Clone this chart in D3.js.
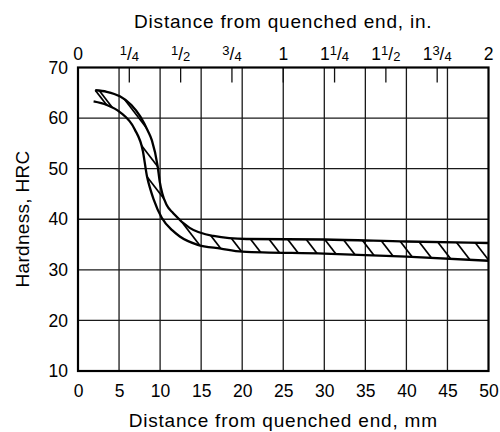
<!DOCTYPE html>
<html><head><meta charset="utf-8">
<script src="https://cdn.jsdelivr.net/npm/d3@7"></script>
<style>
html,body{margin:0;padding:0;background:#fff;}
svg{display:block;font-family:"Liberation Sans",Arial,Helvetica,sans-serif;}
</style></head>
<body><svg id="chart" width="500" height="432"></svg>
<script>
// ---- data ----
const mmTicks = [0,5,10,15,20,25,30,35,40,45,50];
const hrcTicks = [10,20,30,40,50,60,70];
const inchTicks = [0,0.25,0.5,0.75,1,1.25,1.5,1.75,2];
const inchLabels = ["0","1/4","1/2","3/4","1","1 1/4","1 1/2","1 3/4","2"];
// upper (maximum) hardness band boundary: [mm, HRC]
const upperMm  = [2.1,3.5,5.1,6.5,7.6,8.5,9.0,9.7,9.95,10.25,10.8,11.6,13.6,16.5,20.5,30,40,50];
const upperHrc = [65.5,65.2,64.3,62.6,60.3,57.5,55.6,50.5,47.5,45.2,42.8,41.2,38.3,36.7,36.1,36.0,35.6,35.3];
// lower (minimum) hardness band boundary
const lowerMm  = [1.9,3.5,5.1,6.9,7.9,8.4,8.8,9.2,10.2,11.5,12.4,14.5,17.4,20,30,40,50];
const lowerHrc = [63.3,62.6,61.2,57.8,53.5,48.5,46,44,40.3,37.8,36.6,35.0,34.2,33.6,33.2,32.6,31.8];

const titleTop = "Distance from quenched end, in.";
const titleBottom = "Distance from quenched end, mm";
const titleLeft = "Hardness, HRC";

// ---- layout ----
const svg = d3.select("#chart");
const L = 78, R = 488.5, T = 67.5, B = 371;
const x = d3.scaleLinear().domain([0,50]).range([L,R]);
const xIn = d3.scaleLinear().domain([0,2]).range([L,R]);
const y = d3.scaleLinear().domain([10,70]).range([B,T]);

// grid
const g = svg.append("g");
g.append("g").selectAll("line").data(mmTicks.slice(1,-1)).join("line")
  .attr("x1",d=>x(d)).attr("x2",d=>x(d)).attr("y1",T).attr("y2",B)
  .attr("stroke","#1a1a1a").attr("stroke-width",1.3);
g.append("g").selectAll("line").data(hrcTicks.slice(1,-1)).join("line")
  .attr("y1",d=>y(d)).attr("y2",d=>y(d)).attr("x1",L).attr("x2",R)
  .attr("stroke","#1a1a1a").attr("stroke-width",1.3);

// inch ticks (inward from top)
g.append("g").selectAll("line").data(inchTicks.slice(1,-1)).join("line")
  .attr("x1",d=>xIn(d)).attr("x2",d=>xIn(d)).attr("y1",T).attr("y2",T+15)
  .attr("stroke","#111").attr("stroke-width",1.3);

// band
const upper = upperMm.map((m,i)=>[m,upperHrc[i]]);
const lower = lowerMm.map((m,i)=>[m,lowerHrc[i]]);
const line = d3.line().x(d=>x(d[0])).y(d=>y(d[1])).curve(d3.curveMonotoneX);

const tmpPath = document.createElementNS("http://www.w3.org/2000/svg","path");
function sample(pts){
  tmpPath.setAttribute("d", line(pts));
  const len = tmpPath.getTotalLength(); const out=[];
  for(let s=0;s<=len;s+=1){const p=tmpPath.getPointAtLength(s); out.push([p.x,p.y]);}
  const p=tmpPath.getPointAtLength(len); out.push([p.x,p.y]);
  return out;
}
const upS = sample(upper);
const loS = sample(lower.slice(1)).reverse();
const poly = upS.concat(loS);
const defs = svg.append("defs");
defs.append("clipPath").attr("id","band").append("path")
  .attr("d","M"+poly.map(p=>p.join(",")).join("L")+"Z");

// hatch lines
const hatchG = g.append("g").attr("clip-path","url(#band)");
const spacing = 18.5, slope = 10/13;
const offs = d3.range(L-200, R+20, spacing);
hatchG.selectAll("line").data(offs).join("line")
  .attr("x1",d=>d).attr("y1",T).attr("x2",d=>d+(B-T)*slope).attr("y2",B)
  .attr("stroke","#000").attr("stroke-width",1.7);

// curves
g.append("path").attr("d",line(upper)).attr("fill","none").attr("stroke","#000").attr("stroke-width",2.3);
g.append("path").attr("d",line(lower)).attr("fill","none").attr("stroke","#000").attr("stroke-width",2.3);
g.append("line").attr("x1",x(upper[0][0])).attr("y1",y(upper[0][1]))
  .attr("x2",x(lower[1][0])).attr("y2",y(lower[1][1]))
  .attr("stroke","#000").attr("stroke-width",1.8);

// frame
g.append("rect").attr("x",L).attr("y",T).attr("width",R-L).attr("height",B-T)
  .attr("fill","none").attr("stroke","#000").attr("stroke-width",2.2);

// axes
const fs = 17.5;
const bAxis = svg.append("g").attr("transform",`translate(0,${B})`)
  .call(d3.axisBottom(x).tickValues(mmTicks).tickSize(0).tickPadding(14).tickFormat(d3.format("d")));
const lAxis = svg.append("g").attr("transform",`translate(${L},0)`)
  .call(d3.axisLeft(y).tickValues(hrcTicks).tickSize(0).tickPadding(10).tickFormat(d3.format("d")));
[bAxis,lAxis].forEach(a=>{a.select(".domain").remove();
  a.selectAll("text").attr("font-size",fs).attr("fill","#000")
   .attr("font-family","'Liberation Sans',Arial,sans-serif");});

// top inch labels with stacked fractions
const tAxis = svg.append("g");
inchTicks.forEach((v,i)=>{
  const lab = inchLabels[i];
  const t = tAxis.append("text").attr("x",xIn(v)).attr("y",T-7.5)
    .attr("text-anchor","middle").attr("font-size",fs).attr("fill","#000");
  const parts = lab.split(" ");
  let whole="", frac=null;
  if(parts.length===2){whole=parts[0];frac=parts[1];}
  else if(lab.includes("/")) frac=lab; else whole=lab;
  if(whole) t.append("tspan").text(whole);
  if(frac){
    const [n,dd]=frac.split("/");
    t.append("tspan").attr("font-size",13).attr("dy",-5).text(n);
    t.append("tspan").attr("font-size",fs).attr("dy",5).text("/");
    t.append("tspan").attr("font-size",13).attr("dy",1).text(dd);
  }
});

// titles
svg.append("text").attr("x",(L+R)/2).attr("y",28).attr("text-anchor","middle")
  .attr("font-size",19).attr("letter-spacing",0.8).text(titleTop);
svg.append("text").attr("x",(L+R)/2).attr("y",427).attr("text-anchor","middle")
  .attr("font-size",19).attr("letter-spacing",0.8).text(titleBottom);
svg.append("text").attr("transform",`translate(29,219) rotate(-90)`).attr("text-anchor","middle")
  .attr("font-size",19).attr("letter-spacing",0.3).text(titleLeft);
</script></body></html>
